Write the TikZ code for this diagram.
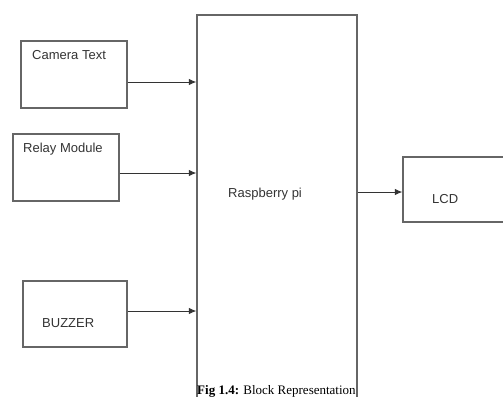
\documentclass[tikz,border=0pt]{standalone}
\usepackage{fontspec}
\setmainfont{Liberation Sans}
\newfontfamily\capfont{Liberation Serif}
\usetikzlibrary{arrows.meta}

\tikzset{
	blockbox/.style={draw=black!60, line width=1.3pt, shape=rectangle, inner sep=0pt},
	blocktext/.style={anchor=base west, inner sep=0pt, text=black!80, font=\fontsize{13}{15}\selectfont},
	arr/.style={draw=black!80, line width=0.9pt, -{Latex[length=7.5pt, width=6.5pt]}}
}

\begin{document}
\begin{tikzpicture}[x=1pt, y=-1pt]
		\useasboundingbox (0, 0) rectangle (503, 396);
		% Blocks:
		\node[blockbox, minimum width=106pt, minimum height=67pt] (cam) at (74, 74.5){};
		\node[blocktext] (camtxt) at (32, 59.5){Camera Text};
		\node[blockbox, minimum width=106pt, minimum height=67pt] (relay) at (66, 167.5){};
		\node[blocktext] (relaytxt) at (23, 152.5){Relay Module};
		\node[blockbox, minimum width=104pt, minimum height=66pt] (buzz) at (75, 314){};
		\node[blocktext] (buzztxt) at (42, 327){BUZZER};
		\node[blockbox, minimum width=160pt, minimum height=384pt] (rpi) at (277, 207){};
		\node[blocktext] (rpitxt) at (228, 197){Raspberry pi};
		\node[blockbox, minimum width=112pt, minimum height=65pt] (lcd) at (459, 189.5){};
		\node[blocktext] (lcdtxt) at (432, 203){LCD};
		\node[anchor=base west, inner sep=0pt, font=\capfont\fontsize{13}{15}\selectfont] (cap) at (197, 394){\textbf{Fig 1.4:} Block Representation};
		% Arrows:
		\coordinate (camout) at ([yshift=-7.5pt]cam.east);
		\coordinate (relayout) at ([yshift=-5.5pt]relay.east);
		\coordinate (buzzout) at ([yshift=3pt]buzz.east);
		\coordinate (lcdin) at ([yshift=-2.5pt]lcd.west);
		\draw[arr] (camout) -- (camout -| rpi.west);
		\draw[arr] (relayout) -- (relayout -| rpi.west);
		\draw[arr] (buzzout) -- (buzzout -| rpi.west);
		\draw[arr] (lcdin -| rpi.east) -- (lcdin);
	\end{tikzpicture}
\end{document}
